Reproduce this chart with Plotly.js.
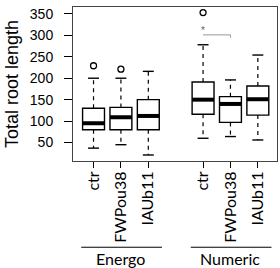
<!DOCTYPE html>
<html>
<head>
<meta charset="utf-8">
<script src="https://cdn.plot.ly/plotly-3.0.1.min.js"></script>
<style>html,body{margin:0;padding:0;background:#fff;}#chart{width:280px;height:268px;}</style>
</head>
<body>
<div id="chart"></div>
<script>
// ---- data ----
const groups = ["Energo", "Numeric"];
const treatments = ["ctr", "FWPou38", "IAUb11"];
const lowerWhisker = [37, 45, 21, 60, 64, 56];
const q1Values     = [80, 80, 80, 116, 97, 114];
const medianValues = [95, 109, 112, 150, 140, 151];
const q3Values     = [130, 132, 150, 191, 157, 182];
const upperWhisker = [200, 200, 216, 278, 196, 254];
const outlierBox   = [0, 1, 3];
const outlierValues = [229, 221, 353];
const sigPair = [3, 4];      // box indices compared
const sigLevel = 301;
const sigDrop = 294;
const sigLabel = "*";
const yTickValues = [50, 100, 150, 200, 250, 300, 350];

// ---- positions (1,2,3 , 5,6,7) ----
const pos = [];
groups.forEach((g, gi) => treatments.forEach((t, ti) => pos.push(gi * 4 + ti + 1)));
const tickText = [];
groups.forEach(() => treatments.forEach(t => tickText.push(t)));

const traces = [];
traces.push({
  type: 'box', x: pos, q1: q1Values, median: medianValues, q3: q3Values,
  lowerfence: q1Values, upperfence: q3Values, width: 0.8, whiskerwidth: 0,
  fillcolor: '#ffffff', line: {color: '#000000', width: 1.4},
  boxpoints: false, hoverinfo: 'skip', showlegend: false
});
// whiskers
const wx = [], wy = [];
pos.forEach((p, i) => {
  wx.push(p, p, null, p, p, null);
  wy.push(q3Values[i], upperWhisker[i], null, q1Values[i], lowerWhisker[i], null);
});
traces.push({type: 'scatter', mode: 'lines', x: wx, y: wy,
  line: {color: '#000', width: 1.2, dash: '4px,4px'}, showlegend: false, hoverinfo: 'skip'});
// caps
const cx = [], cy = [];
pos.forEach((p, i) => {
  cx.push(p - 0.2, p + 0.2, null, p - 0.2, p + 0.2, null);
  cy.push(upperWhisker[i], upperWhisker[i], null, lowerWhisker[i], lowerWhisker[i], null);
});
traces.push({type: 'scatter', mode: 'lines', x: cx, y: cy,
  line: {color: '#000', width: 1.4}, showlegend: false, hoverinfo: 'skip'});
// medians
const mx = [], my = [];
pos.forEach((p, i) => { mx.push(p - 0.4, p + 0.4, null); my.push(medianValues[i], medianValues[i], null); });
traces.push({type: 'scatter', mode: 'lines', x: mx, y: my,
  line: {color: '#000', width: 4}, showlegend: false, hoverinfo: 'skip'});
// outliers
traces.push({type: 'scatter', mode: 'markers', x: outlierBox.map(i => pos[i]), y: outlierValues,
  marker: {symbol: 'circle-open', size: 6, color: '#000', line: {width: 1.3, color: '#000'}},
  showlegend: false, hoverinfo: 'skip'});
// significance bracket
const a = pos[sigPair[0]], b = pos[sigPair[1]];
traces.push({type: 'scatter', mode: 'lines', x: [a, b, b], y: [sigLevel, sigLevel, sigDrop],
  line: {color: '#999', width: 1}, showlegend: false, hoverinfo: 'skip'});
traces.push({type: 'scatter', mode: 'text', x: [a], y: [sigLevel + 8], text: [sigLabel],
  textfont: {family: 'Liberation Sans, Arial', size: 10, color: '#666'}, showlegend: false, hoverinfo: 'skip'});

// group lines and labels
const shapes = [], annotations = [];
groups.forEach((g, gi) => {
  const first = pos[gi * treatments.length], last = pos[gi * treatments.length + treatments.length - 1];
  shapes.push({type: 'line', xref: 'x', yref: 'paper', x0: first - 0.45, x1: last + 0.5,
    y0: -0.56, y1: -0.56, line: {color: '#000', width: 1}});
  annotations.push({xref: 'x', yref: 'paper', x: (first + last) / 2, y: -0.63, text: g,
    showarrow: false, xanchor: 'center', yanchor: 'middle',
    font: {family: 'Lato', size: 16, color: '#000'}});
});

const layout = {
  width: 280, height: 268,
  margin: {l: 73, r: 2.5, t: 7, b: 107},
  paper_bgcolor: '#fff', plot_bgcolor: '#fff',
  showlegend: false,
  xaxis: {range: [0.25, 7.7], tickvals: pos, ticktext: tickText, tickangle: -90,
    ticks: 'outside', ticklen: 6, tickcolor: '#000', tickwidth: 1, ticklabelstandoff: -3,
    tickfont: {family: 'Lato', size: 16, color: '#000'},
    showline: true, mirror: true, linecolor: '#444', linewidth: 1,
    showgrid: false, zeroline: false, fixedrange: true},
  yaxis: {range: [7, 366], tickvals: yTickValues, ticks: 'outside', ticklen: 8,
    tickcolor: '#000', tickwidth: 1, ticklabelstandoff: 8,
    tickfont: {family: 'Liberation Sans, Arial', size: 14, color: '#000'},
    title: {text: 'Total root length', font: {family: 'Liberation Sans, Arial', size: 18, color: '#000'}, standoff: 6},
    showline: true, mirror: true, linecolor: '#444', linewidth: 1,
    showgrid: false, zeroline: false, fixedrange: true},
  shapes: shapes, annotations: annotations
};
Plotly.newPlot('chart', traces, layout, {staticPlot: true, displayModeBar: false});
</script>
</body>
</html>
